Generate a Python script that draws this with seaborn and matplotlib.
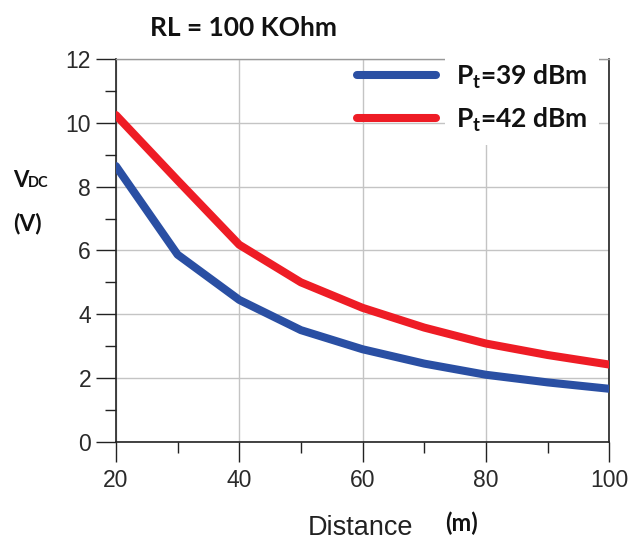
import matplotlib
matplotlib.use("Agg")
import matplotlib.pyplot as plt
import seaborn as sns
import pandas as pd
from matplotlib.ticker import MultipleLocator
from matplotlib.lines import Line2D

# ---- data ----
distance = [20, 30, 40, 50, 60, 70, 80, 90, 100]
vdc_39 = [8.65, 5.87, 4.45, 3.5, 2.9, 2.45, 2.1, 1.86, 1.66]
vdc_42 = [10.25, 8.2, 6.18, 5.0, 4.2, 3.58, 3.08, 2.72, 2.42]
series_labels = [r"P$_\mathregular{t}$=39 dBm", r"P$_\mathregular{t}$=42 dBm"]
series_colors = ["#2a4fa3", "#ee1c25"]
x_ticks = [20, 40, 60, 80, 100]
y_ticks = [0, 2, 4, 6, 8, 10, 12]

df = pd.DataFrame({
    "Distance": distance * 2,
    "VDC": vdc_39 + vdc_42,
    "Series": [series_labels[0]] * len(distance) + [series_labels[1]] * len(distance),
})

sns.set_theme(style="white")
plt.rcParams["font.family"] = ["Liberation Sans", "DejaVu Sans"]
plt.rcParams["mathtext.default"] = "regular"

fig = plt.figure(figsize=(6.3, 5.45), dpi=100)
ax = fig.add_axes([0.184, 0.1896, 0.783, 0.7016])

sns.lineplot(data=df, x="Distance", y="VDC", hue="Series",
             palette=dict(zip(series_labels, series_colors)),
             linewidth=5.8, ax=ax, legend=False, zorder=3)

ax.set_xlim(20, 100)
ax.set_ylim(0, 12)
ax.set_xticks(x_ticks)
ax.set_yticks(y_ticks)
ax.xaxis.set_minor_locator(MultipleLocator(10))
ax.yaxis.set_minor_locator(MultipleLocator(1))
ax.grid(True, which="major", color="#c4c4c4", linewidth=1.0)
ax.tick_params(which="major", direction="out", length=14.4, width=1, color="#222",
               labelsize=16.5, labelcolor="#2a2a2a", bottom=True, left=True)
ax.tick_params(axis="y", which="major", pad=3.5)
ax.tick_params(axis="x", which="major", pad=5)
ax.tick_params(which="minor", direction="out", length=8, width=1, color="#222",
               bottom=True, left=True)
ax.set_xlabel("")
ax.set_ylabel("")
for s in ["left", "bottom", "right"]:
    ax.spines[s].set_color("#222")
    ax.spines[s].set_linewidth(1.2)
ax.spines["top"].set_color("#999")
ax.spines["top"].set_linewidth(1.0)

handles = [Line2D([], [], color=c, linewidth=5.8) for c in series_colors]
leg = ax.legend(handles, series_labels, loc="upper right",
                bbox_to_anchor=(0.972, 1.012), frameon=False,
                handlelength=3.0, handletextpad=0.75,
                labelspacing=0.55, borderpad=0.3, borderaxespad=0.0,
                prop={"family": "Lato", "weight": "bold", "size": 19})
for t in leg.get_texts():
    t.set_color("#111")
    t.set_bbox(dict(facecolor="white", edgecolor="none", pad=8))

fig.text(0.386, 0.949, "RL = 100 KOhm", ha="center", va="center",
         fontsize=19, fontweight="bold", family="Lato", color="#111")
fig.text(0.021, 0.657, "V", ha="left", va="baseline", fontsize=16,
         fontweight="bold", family="Lato", color="#111")
fig.text(0.045, 0.657, "DC", ha="left", va="baseline", fontsize=10.5,
         fontweight="bold", family="Lato", color="#111")
fig.text(0.021, 0.578, "(V)", ha="left", va="baseline", fontsize=16.5,
         fontweight="bold", family="Lato", color="#111")
fig.text(0.572, 0.018, "Distance", ha="center", va="baseline", fontsize=19.5,
         color="#222")
fig.text(0.732, 0.026, "(m)", ha="center", va="baseline", fontsize=17,
         fontweight="bold", family="Lato", color="#111")

fig.savefig("out.png", dpi=100)
